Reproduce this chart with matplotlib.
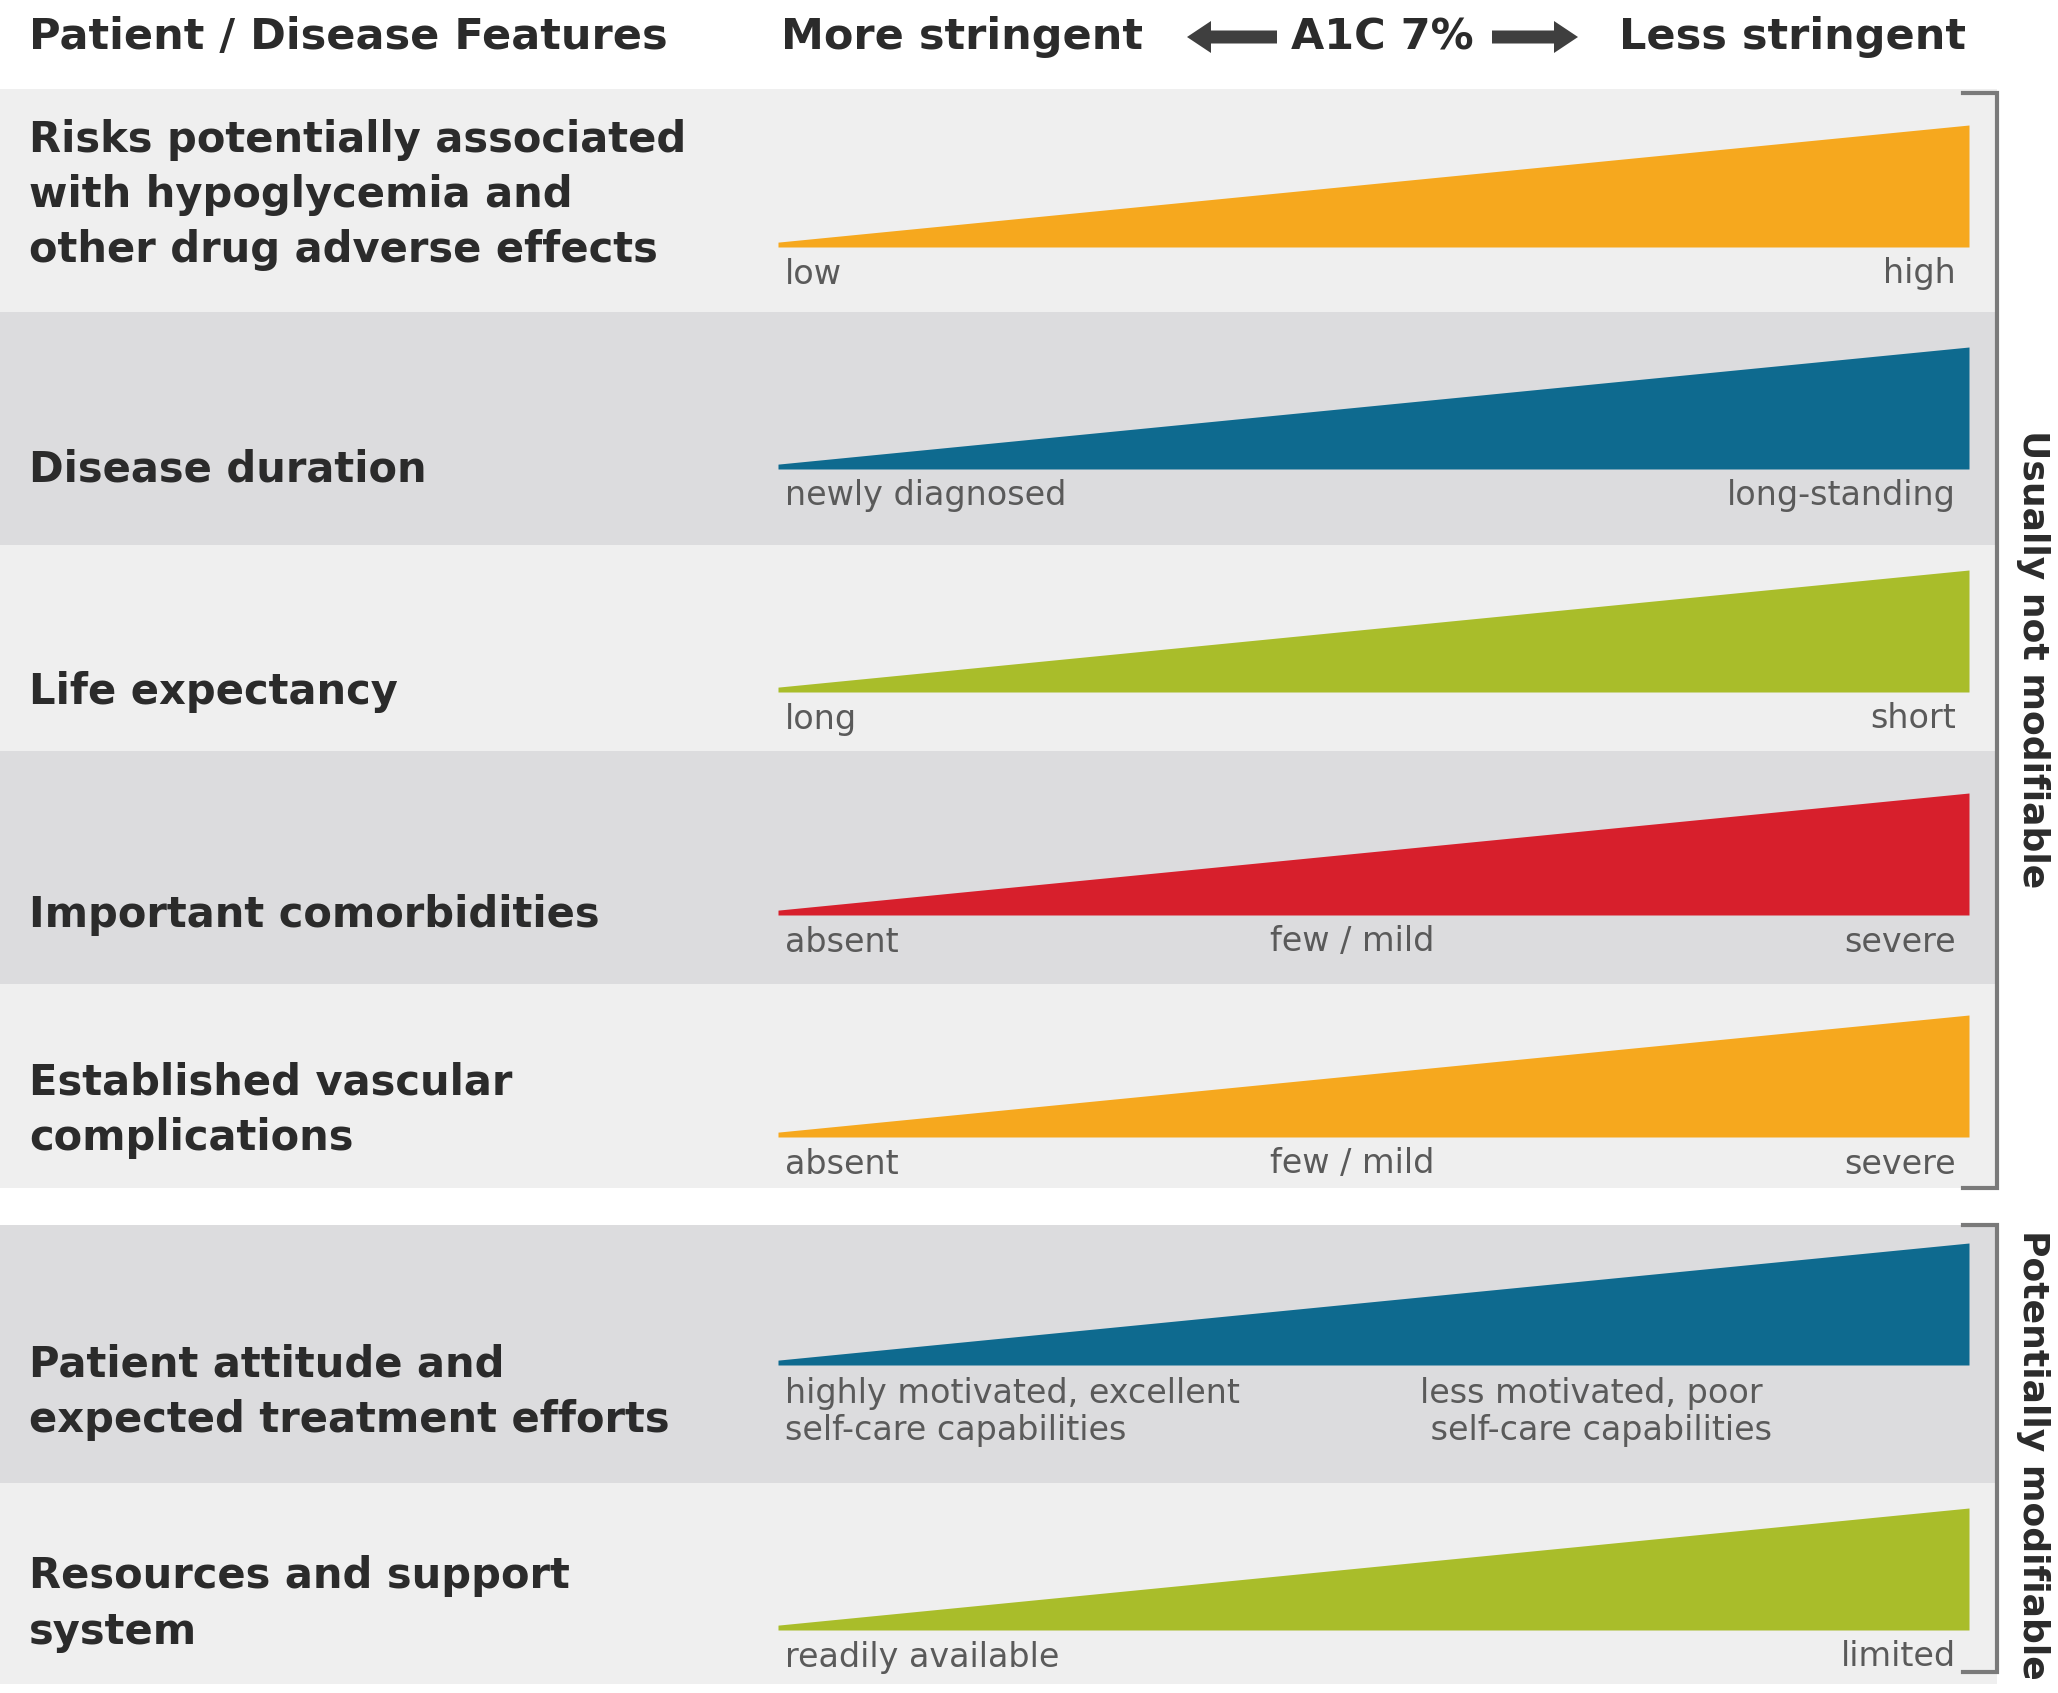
import matplotlib
matplotlib.use("Agg")
import matplotlib.pyplot as plt

# data
features = ["Risks potentially associated\nwith hypoglycemia and\nother drug adverse effects",
            "Disease duration",
            "Life expectancy",
            "Important comorbidities",
            "Established vascular\ncomplications",
            "Patient attitude and\nexpected treatment efforts",
            "Resources and support\nsystem"]
left_labels = ["low", "newly diagnosed", "long", "absent", "absent",
               "highly motivated, excellent\nself-care capabilities", "readily available"]
mid_labels = ["", "", "", "few / mild", "few / mild", "", ""]
right_labels = ["high", "long-standing", "short", "severe", "severe",
                "less motivated, poor\n self-care capabilities", "limited"]
wedge_start = [0.04, 0.04, 0.04, 0.04, 0.04, 0.04, 0.04]
wedge_end = [1.0, 1.0, 1.0, 1.0, 1.0, 1.0, 1.0]
colors = ["#f6a81e", "#0e6a8f", "#a9bd2a", "#d71f2c", "#f6a81e", "#0e6a8f", "#a9bd2a"]
groups = ["Usually not modifiable", "Potentially modifiable"]

W, H = 2058, 1693
fig = plt.figure(figsize=(W / 100, H / 100), dpi=100)
ax = fig.add_axes([0, 0, 1, 1])
ax.set_xlim(0, W)
ax.set_ylim(H, 0)
ax.axis("off")

# layout (pixels)
bands = [(89, 312), (312, 545), (545, 751), (751, 984), (984, 1188), (1225, 1483), (1483, 1684)]
band_cols = ["#efefef", "#dcdcde", "#efefef", "#dcdcde", "#efefef", "#dcdcde", "#efefef"]
label_y = [195, 470, 692, 915, 1110, 1392, 1604]
wedge_bottom = [247, 469, 692, 915, 1137, 1365, 1630]
wedge_h = 122
wx0, wx1 = 778, 1969
band_right = 1997

head = dict(family="DejaVu Sans", fontweight="bold", color="#2b2b2b", fontsize=31)
big = dict(family="DejaVu Sans", fontweight="bold", color="#2b2b2b", fontsize=30)
small = dict(family="DejaVu Sans", color="#5a5a5a", fontsize=24)

# header
ax.text(29, 37, "Patient / Disease Features", va="center", ha="left", **head)
ax.text(781, 37, "More stringent", va="center", ha="left", **head)
ax.text(1382, 37, "A1C 7%", va="center", ha="center", **head)
ax.text(1966, 37, "Less stringent", va="center", ha="right", **head)
ax.arrow(1277, 37, -90, 0, width=13, head_width=32, head_length=24,
         length_includes_head=True, color="#3f3f3f", lw=0)
ax.arrow(1492, 37, 86, 0, width=13, head_width=32, head_length=24,
         length_includes_head=True, color="#3f3f3f", lw=0)

for i, feat in enumerate(features):
    t, b = bands[i]
    ax.fill_between([0, band_right], t, b, color=band_cols[i], lw=0)
    ax.text(29, label_y[i], feat, va="center", ha="left", linespacing=1.4, **big)

    # wedge in its own axes
    wb = wedge_bottom[i]
    wax = fig.add_axes([wx0 / W, 1 - wb / H, (wx1 - wx0) / W, wedge_h / H])
    wax.set_xlim(0, 1)
    wax.set_ylim(0, 1)
    wax.axis("off")
    wax.fill_between([0, 1], [0, 0], [wedge_start[i], wedge_end[i]],
                     color=colors[i], lw=0)

    if "\n" in left_labels[i]:
        ly = wb + 47
    else:
        ly = wb + 27
    ax.text(785, ly, left_labels[i], va="center", ha="left", linespacing=1.15, **small)
    if mid_labels[i]:
        ax.text(1352, ly, mid_labels[i], va="center", ha="center", **small)
    if "\n" in right_labels[i]:
        ax.text(1420, ly, right_labels[i], va="center", ha="left", linespacing=1.15, **small)
    else:
        ax.text(1956, ly, right_labels[i], va="center", ha="right", **small)

# brackets
brackets = [(93, 1188), (1225, 1672)]
text_y = [659, 1455]
for (t, b), g, ty in zip(brackets, groups, text_y):
    ax.plot([1963, band_right, band_right, 1963], [t, t, b, b], color="#7a7a7a", lw=3,
            solid_joinstyle="miter")
    ax.text(2033, ty, g, rotation=270, va="center", ha="center",
            family="DejaVu Sans", fontweight="bold", color="#2b2b2b", fontsize=26)

fig.savefig("out.png", dpi=100)
